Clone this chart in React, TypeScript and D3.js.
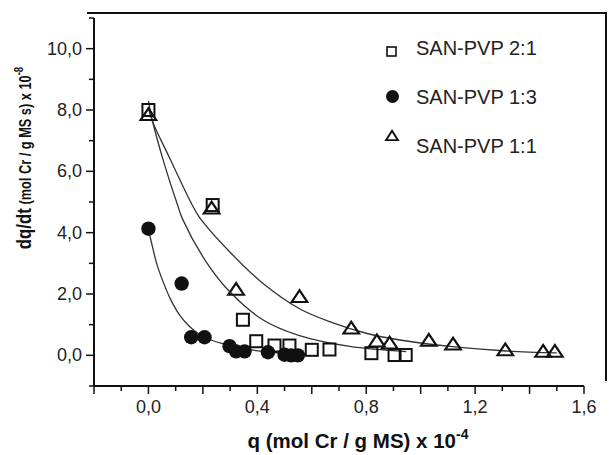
import * as d3 from "d3";

// SAN-PVP 2:1 (open squares)
const sq21Q = [0.0, 0.236, 0.347, 0.396, 0.463, 0.518, 0.6, 0.665, 0.819, 0.904, 0.945];
const sq21V = [8.0, 4.9, 1.16, 0.46, 0.32, 0.32, 0.18, 0.19, 0.07, 0.01, 0.01];
// SAN-PVP 1:3 (filled circles)
const c13Q = [0.0, 0.122, 0.157, 0.206, 0.298, 0.322, 0.353, 0.439, 0.5, 0.524, 0.549];
const c13V = [4.13, 2.34, 0.59, 0.59, 0.3, 0.13, 0.13, 0.1, 0.02, 0.0, 0.0];
// SAN-PVP 1:1 (open triangles)
const t11Q = [0.0, 0.232, 0.322, 0.555, 0.745, 0.839, 0.886, 1.03, 1.119, 1.311, 1.45, 1.493];
const t11V = [7.8, 4.75, 2.1, 1.87, 0.84, 0.42, 0.35, 0.44, 0.32, 0.13, 0.08, 0.08];

// fitted curves
const fit13Q = [0.0, 0.01, 0.03, 0.053, 0.08, 0.114, 0.15, 0.188, 0.23, 0.272, 0.36, 0.45, 0.55];
const fit13V = [4.1, 3.72, 3.0, 2.42, 1.85, 1.32, 0.95, 0.68, 0.5, 0.38, 0.2, 0.1, 0.05];
const fit21Q = [0.0, 0.016, 0.053, 0.107, 0.125, 0.212, 0.298, 0.42, 0.555, 0.739, 0.947];
const fit21V = [8.3, 7.6, 6.4, 4.9, 4.45, 3.05, 2.08, 1.16, 0.64, 0.29, 0.12];
const fit11Q = [0.0, 0.016, 0.077, 0.158, 0.1875, 0.298, 0.42, 0.555, 0.678, 0.8, 0.923, 1.107, 1.3, 1.5];
const fit11V = [8.05, 7.6, 6.45, 4.95, 4.5, 3.38, 2.35, 1.52, 1.06, 0.72, 0.5, 0.29, 0.15, 0.08];

const xMajor = [-0.2, 0.0, 0.2, 0.4, 0.6, 0.8, 1.0, 1.2, 1.4, 1.6];
const xMinor = [-0.1, 0.1, 0.3, 0.5, 0.7, 0.9, 1.1, 1.3, 1.5];
const xLabels = [0.0, 0.4, 0.8, 1.2, 1.6];
const yMajor = [0, 2, 4, 6, 8, 10];
const yMinor = [-1, 1, 3, 5, 7, 9, 11];

const legendNames = ["SAN-PVP 2:1", "SAN-PVP 1:3", "SAN-PVP 1:1"];

const fmt = (v: number) => v.toFixed(1).replace(".", ",");
const zip = (a: number[], b: number[]) => a.map((q, i) => [q, b[i]] as [number, number]);

export default function App() {
  const width = 611;
  const height = 455;
  const x = d3.scaleLinear().domain([-0.2, 1.6]).range([94, 584]);
  const y = d3.scaleLinear().domain([-1, 11]).range([386, 18]);
  const ink = "#111";
  const font = "'Liberation Sans', Arial, sans-serif";

  const line = d3
    .line<[number, number]>()
    .x((d) => x(d[0]))
    .y((d) => y(d[1]))
    .curve(d3.curveCatmullRom.alpha(0.5));

  const tri = d3.symbol().type(d3.symbolTriangle).size(80)();
  const triSmall = d3.symbol().type(d3.symbolTriangle).size(50)();

  return (
    <svg width={width} height={height} style={{ position: "absolute", left: 0, top: 0 }} fontFamily={font}>
      <rect width={width} height={height} fill="#fff" />

      {/* frame */}
      <line x1={87} x2={607} y1={13} y2={13} stroke={ink} strokeWidth={2} />
      <line x1={606} x2={606} y1={13} y2={381} stroke={ink} strokeWidth={2} />

      {/* axes */}
      <line x1={x(-0.2)} x2={x(-0.2)} y1={y(11)} y2={y(-1)} stroke={ink} strokeWidth={2} />
      <line x1={x(-0.2)} x2={x(1.6)} y1={y(-1)} y2={y(-1)} stroke={ink} strokeWidth={2} />

      {xMajor.map((t) => (
        <line key={"xM" + t} x1={x(t)} x2={x(t)} y1={y(-1)} y2={y(-1) + 8} stroke={ink} strokeWidth={1.5} />
      ))}
      {xMinor.map((t) => (
        <line key={"xm" + t} x1={x(t)} x2={x(t)} y1={y(-1)} y2={y(-1) + 5} stroke={ink} strokeWidth={1.5} />
      ))}
      {xLabels.map((t) => (
        <text key={"xl" + t} x={x(t)} y={413} textAnchor="middle" fontSize={18} fill="#222">
          {fmt(t)}
        </text>
      ))}

      {yMajor.map((t) => (
        <line key={"yM" + t} x1={x(-0.2) - 8} x2={x(-0.2)} y1={y(t)} y2={y(t)} stroke={ink} strokeWidth={1.5} />
      ))}
      {yMinor.map((t) => (
        <line key={"ym" + t} x1={x(-0.2) - 5} x2={x(-0.2)} y1={y(t)} y2={y(t)} stroke={ink} strokeWidth={1.5} />
      ))}
      {yMajor.map((t) => (
        <text key={"yl" + t} x={82} y={y(t) + 6} textAnchor="end" fontSize={18} fill="#222">
          {fmt(t)}
        </text>
      ))}

      {/* axis titles */}
      <text x={358} y={448} textAnchor="middle" fontSize={20.5} fontWeight="bold" fill={ink}>
        q (mol Cr / g MS) x 10
        <tspan dy={-9} fontSize={14}>-4</tspan>
      </text>
      <text transform="translate(31,158) rotate(-90) scale(0.8,1)" textAnchor="middle" fontWeight="bold" fill={ink}>
        <tspan fontSize={21}>dq/dt</tspan>
        <tspan fontSize={16}> (mol Cr / g MS s) x 10</tspan>
        <tspan dy={-8} fontSize={12}>-8</tspan>
      </text>

      {/* fitted curves */}
      <path d={line(zip(fit13Q, fit13V)) ?? ""} fill="none" stroke="#333" strokeWidth={1.3} />
      <path d={line(zip(fit21Q, fit21V)) ?? ""} fill="none" stroke="#333" strokeWidth={1.3} />
      <path d={line(zip(fit11Q, fit11V)) ?? ""} fill="none" stroke="#333" strokeWidth={1.3} />

      {/* data points */}
      {t11Q.map((q, i) => (
        <path key={"t" + i} d={tri} transform={`translate(${x(q)},${y(t11V[i])}) scale(1.15,1)`} fill="none" stroke={ink} strokeWidth={2} />
      ))}
      {sq21Q.map((q, i) => (
        <rect key={"s" + i} x={x(q) - 6} y={y(sq21V[i]) - 6} width={12} height={12} fill="none" stroke={ink} strokeWidth={2} />
      ))}
      {c13Q.map((q, i) => (
        <circle key={"c" + i} cx={x(q)} cy={y(c13V[i])} r={7.2} fill={ink} />
      ))}

      {/* legend */}
      <rect x={387} y={47} width={9} height={9} fill="none" stroke={ink} strokeWidth={1.6} />
      <circle cx={392.5} cy={96.5} r={6.5} fill={ink} />
      <path d={triSmall} transform="translate(392,137) scale(1.1,1)" fill="none" stroke={ink} strokeWidth={1.8} />
      {legendNames.map((n, i) => (
        <text key={n} x={416} y={55 + i * 49} fontSize={20} fill="#222">
          {n}
        </text>
      ))}
    </svg>
  );
}
